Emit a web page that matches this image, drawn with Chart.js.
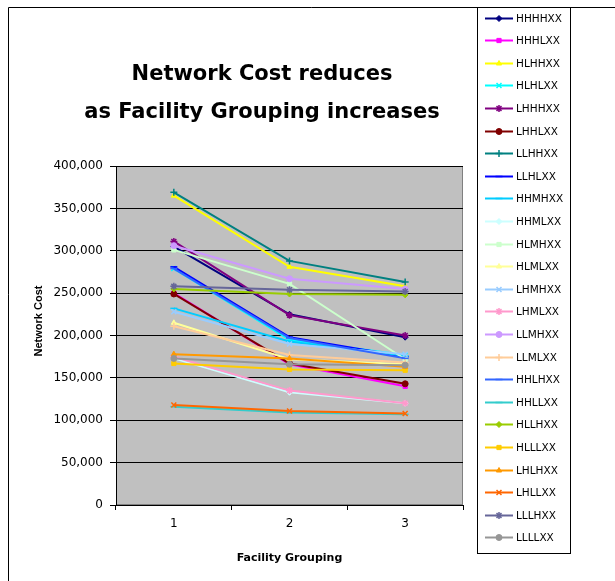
<!DOCTYPE html>
<html>
<head>
<meta charset="utf-8">
<script src="https://cdn.jsdelivr.net/npm/chart.js@4/dist/chart.umd.min.js"></script>
<style>
  html, body { margin: 0; padding: 0; background: #fff; }
  #wrap { width: 615px; height: 581px; }
</style>
</head>
<body>
<div id="wrap"><canvas id="chart" width="615" height="581"></canvas></div>
<script>
const categories = ["1", "2", "3"];
const yTicks = [0, 50000, 100000, 150000, 200000, 250000, 300000, 350000, 400000];

// network cost per facility grouping
const HHHHXX = [305000, 225000, 198000];
const HHHLXX = [250000, 166000, 140000];
const HLHHXX = [365000, 281000, 258000];
const HLHLXX = [279000, 195000, 177000];
const LHHHXX = [311000, 224000, 200000];
const LHHLXX = [249000, 167000, 143000];
const LLHHXX = [369000, 288000, 263000];
const LLHLXX = [281000, 198000, 175000];
const HHMHXX = [232000, 193000, 176000];
const HHMLXX = [173000, 133000, 120000];
const HLMHXX = [301000, 261000, 172000];
const HLMLXX = [215000, 172000, 166000];
const LHMHXX = [228000, 190000, 178000];
const LHMLXX = [175000, 135000, 120000];
const LLMHXX = [306000, 267000, 255000];
const LLMLXX = [211000, 177000, 168000];
const HHLHXX = [279000, 197000, 173000];
const HHLLXX = [116000, 109000, 107000];
const HLLHXX = [255000, 249000, 248000];
const HLLLXX = [167000, 160000, 159000];
const LHLHXX = [178000, 173000, 163000];
const LHLLXX = [118000, 111000, 108000];
const LLLHXX = [258000, 254000, 252000];
const LLLLXX = [173000, 166000, 165000];

const series = [
  ["HHHHXX", HHHHXX], ["HHHLXX", HHHLXX], ["HLHHXX", HLHHXX], ["HLHLXX", HLHLXX],
  ["LHHHXX", LHHHXX], ["LHHLXX", LHHLXX], ["LLHHXX", LLHHXX], ["LLHLXX", LLHLXX],
  ["HHMHXX", HHMHXX], ["HHMLXX", HHMLXX], ["HLMHXX", HLMHXX], ["HLMLXX", HLMLXX],
  ["LHMHXX", LHMHXX], ["LHMLXX", LHMLXX], ["LLMHXX", LLMHXX], ["LLMLXX", LLMLXX],
  ["HHLHXX", HHLHXX], ["HHLLXX", HHLLXX], ["HLLHXX", HLLHXX], ["HLLLXX", HLLLXX],
  ["LHLHXX", LHLHXX], ["LHLLXX", LHLLXX], ["LLLHXX", LLLHXX], ["LLLLXX", LLLLXX],
];

// old excel palette + marker cycle
const colors = [
  "#000080", "#FF00FF", "#FFFF00", "#00FFFF", "#800080", "#800000", "#008080", "#0000FF",
  "#00CCFF", "#CCFFFF", "#CCFFCC", "#FFFF99", "#99CCFF", "#FF99CC", "#CC99FF", "#FFCC99",
  "#3366FF", "#33CCCC", "#99CC00", "#FFCC00", "#FF9900", "#FF6600", "#666699", "#969696",
];
const markers = ["rectRot", "rect", "triangle", "crossRot", "star", "circle", "cross", "line", "line"];

const FONT = "'DejaVu Sans', sans-serif";

const datasets = series.map(([name, values], i) => {
  const style = markers[i % markers.length];
  const open = style === "crossRot" || style === "star" || style === "cross" || style === "line";
  return {
    label: name,
    data: values,
    borderColor: colors[i],
    backgroundColor: colors[i],
    borderWidth: 2,
    pointStyle: style,
    pointRadius: open ? 3.5 : 3,
    pointBorderWidth: open ? 1.5 : 1,
    pointHoverRadius: 3,
    tension: 0,
    order: series.length - i,
  };
});

const decor = {
  id: "decor",
  beforeDraw(chart) {
    const ctx = chart.ctx;
    const a = chart.chartArea;
    ctx.save();
    ctx.fillStyle = "#fff";
    ctx.fillRect(0, 0, chart.width, chart.height);
    ctx.fillStyle = "#c0c0c0";
    ctx.fillRect(a.left, a.top, a.right - a.left, a.bottom - a.top);
    ctx.strokeStyle = "#808080";
    ctx.lineWidth = 1;
    ctx.strokeRect(a.left + 0.5, a.top + 0.5, a.right - a.left - 1, a.bottom - a.top - 1);
    // chart border
    ctx.strokeStyle = "#000";
    ctx.beginPath();
    ctx.moveTo(8.5, chart.height);
    ctx.lineTo(8.5, 7.5);
    ctx.lineTo(chart.width, 7.5);
    ctx.stroke();
    ctx.restore();
  },
  afterDraw(chart) {
    const ctx = chart.ctx;
    ctx.save();
    // title
    ctx.fillStyle = "#000";
    ctx.textAlign = "center";
    ctx.textBaseline = "alphabetic";
    ctx.font = "bold 21px " + FONT;
    ctx.fillText("Network Cost reduces", 262, 80);
    ctx.fillText("as Facility Grouping increases", 262, 118);
    // axis titles
    ctx.font = "bold 11px " + FONT;
    ctx.textBaseline = "middle";
    ctx.fillText("Facility Grouping", (chart.chartArea.left + chart.chartArea.right) / 2, 558);
    ctx.save();
    ctx.translate(39, 321);
    ctx.rotate(-Math.PI / 2);
    ctx.font = "bold 11px 'Liberation Sans', Arial, sans-serif";
    ctx.fillText("Network Cost", 0, 0);
    ctx.restore();
    // legend
    ctx.fillStyle = "#fff";
    ctx.fillRect(477.5, 7.5, 93, 546);
    ctx.strokeStyle = "#000";
    ctx.lineWidth = 1;
    ctx.strokeRect(477.5, 7.5, 93, 546);
    ctx.textAlign = "left";
    ctx.font = "10.5px " + FONT;
    chart.data.datasets.forEach((ds, i) => {
      const y = Math.round(17.5 + i * 22.6) + 0.5;
      ctx.strokeStyle = ds.borderColor;
      ctx.fillStyle = ds.borderColor;
      ctx.lineWidth = 2;
      ctx.beginPath();
      ctx.moveTo(485, y);
      ctx.lineTo(513, y);
      ctx.stroke();
      ctx.lineWidth = ds.pointBorderWidth;
      Chart.helpers.drawPoint(ctx, {
        pointStyle: ds.pointStyle,
        radius: ds.pointRadius,
        borderWidth: ds.pointBorderWidth,
        rotation: 0,
      }, 499, y);
      ctx.fillStyle = "#000";
      ctx.fillText(ds.label, 516, y + 0.5);
    });
    ctx.restore();
  },
};

new Chart(document.getElementById("chart"), {
  type: "line",
  data: { labels: categories, datasets: datasets },
  options: {
    responsive: false,
    animation: false,
    events: [],
    layout: { padding: { left: 0, top: 166, right: 152, bottom: 0 } },
    plugins: { legend: { display: false }, title: { display: false }, tooltip: { enabled: false } },
    scales: {
      x: {
        offset: true,
        grid: { display: true, offset: true, drawOnChartArea: false, drawTicks: true, tickLength: 5, color: "#000" },
        border: { color: "#000", width: 1 },
        ticks: { color: "#000", font: { family: FONT, size: 12 }, padding: 7, maxRotation: 0 },
        afterFit(scale) { scale.height = 76; },
      },
      y: {
        min: yTicks[0],
        max: yTicks[yTicks.length - 1],
        afterBuildTicks(scale) { scale.ticks = yTicks.map((v) => ({ value: v })); },
        grid: { color: "#000", tickLength: 6, drawTicks: true },
        border: { color: "#000", width: 1 },
        ticks: {
          color: "#000",
          font: { family: FONT, size: 12 },
          padding: 7,
          callback: (v) => v.toLocaleString("en-US"),
        },
        afterFit(scale) { scale.width = 116; },
      },
    },
  },
  plugins: [decor],
});
</script>
</body>
</html>
